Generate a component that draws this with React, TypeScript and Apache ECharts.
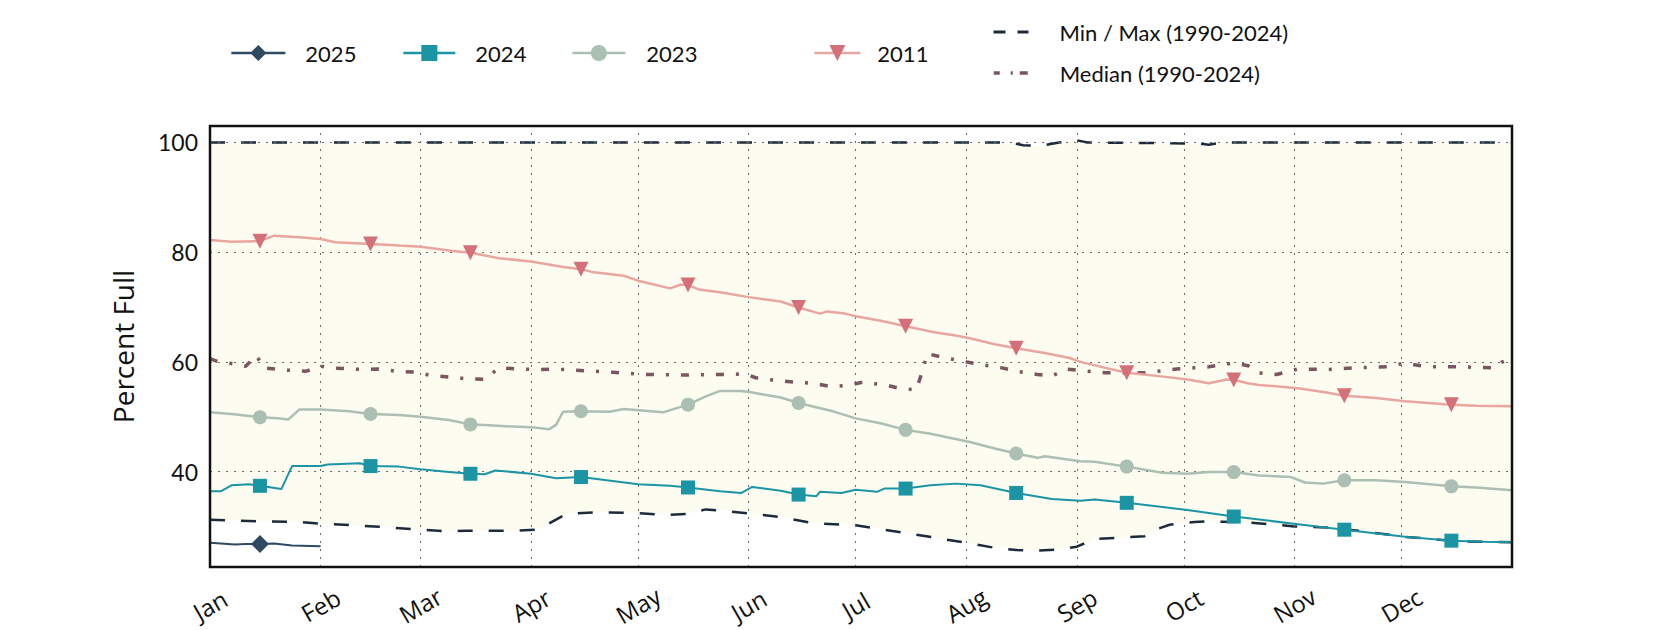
import React, { useEffect, useRef } from "react";
import * as echarts from "echarts";

const monthDays = [0, 31, 59, 90, 120, 151, 181, 212, 243, 273, 304, 334];
const monthNames = ["Jan", "Feb", "Mar", "Apr", "May", "Jun", "Jul", "Aug", "Sep", "Oct", "Nov", "Dec"];
const yTicks = [40, 60, 80, 100];
const markerDays = [14, 45, 73, 104, 134, 165, 195, 226, 257, 287, 318, 348];

const NAME_MINMAX = "Min / Max (1990-2024)";
const NAME_MEDIAN = "Median (1990-2024)";

const y2025: [number, number][] = [
  [0, 27.0], [7, 26.7], [10, 26.8], [14, 26.8], [18, 26.9], [23, 26.5], [31, 26.4],
];

const y2024: [number, number][] = [
  [0, 36.4], [3, 36.4], [6, 37.5], [11, 37.7], [14, 37.4], [20, 36.8], [23, 41.0], [31, 41.0],
  [33, 41.3], [42, 41.5], [45, 41.0], [53, 40.9], [59, 40.4], [67, 39.9], [73, 39.6], [77, 39.5],
  [80, 40.2], [90, 39.6], [97, 38.8], [104, 39.0], [109, 38.6], [120, 37.7], [129, 37.4], [134, 37.1],
  [143, 36.4], [149, 36.1], [152, 37.2], [160, 36.5], [165, 35.8], [170, 35.5], [171, 36.3], [177, 36.1],
  [181, 36.7], [187, 36.3], [189, 36.9], [195, 36.9], [202, 37.5], [209, 37.8], [216, 37.5], [226, 36.1],
  [236, 35.0], [244, 34.7], [248, 34.9], [257, 34.3], [274, 33.0], [287, 31.8], [305, 30.4], [318, 29.4],
  [335, 28.1], [348, 27.4], [357, 27.2], [365, 27.1],
];

const y2023: [number, number][] = [
  [0, 50.8], [6, 50.5], [14, 49.9], [19, 49.7], [22, 49.5], [25, 51.3], [31, 51.3], [39, 51.0],
  [45, 50.5], [53, 50.3], [59, 50.0], [67, 49.4], [73, 48.6], [77, 48.5], [85, 48.2], [90, 48.1],
  [95, 47.7], [97, 48.5], [99, 50.9], [104, 51.0], [112, 50.9], [116, 51.4], [127, 50.8], [134, 52.2],
  [139, 53.7], [143, 54.7], [149, 54.7], [152, 54.4], [160, 53.5], [165, 52.5], [174, 51.1], [181, 49.7],
  [188, 48.8], [195, 47.6], [202, 46.9], [213, 45.4], [220, 44.2], [226, 43.3], [232, 42.5], [234, 42.8],
  [244, 41.9], [248, 41.8], [257, 40.9], [267, 39.8], [274, 39.6], [280, 39.9], [287, 39.9], [294, 39.3],
  [303, 39.0], [307, 38.0], [312, 37.8], [318, 38.4], [327, 38.4], [335, 38.1], [348, 37.3], [355, 37.1],
  [365, 36.6],
];

const y2011: [number, number][] = [
  [0, 82.2], [6, 81.9], [14, 82.0], [18, 83.0], [25, 82.7], [31, 82.4], [35, 81.8], [45, 81.5],
  [53, 81.2], [59, 81.0], [68, 80.2], [73, 79.9], [81, 78.9], [90, 78.3], [99, 77.3], [104, 76.9],
  [107, 76.4], [116, 75.7], [120, 74.8], [129, 73.4], [132, 74.1], [134, 74.0], [137, 73.2], [143, 72.7],
  [151, 71.8], [160, 71.0], [165, 69.9], [171, 68.8], [173, 69.2], [178, 68.8], [181, 68.3], [188, 67.5],
  [195, 66.5], [203, 65.4], [209, 64.8], [213, 64.3], [220, 63.2], [226, 62.5], [234, 61.6], [241, 60.7],
  [244, 60.0], [251, 58.9], [257, 58.0], [266, 57.4], [274, 56.8], [280, 56.1], [285, 56.8], [287, 56.7],
  [291, 56.1], [294, 55.8], [305, 55.2], [313, 54.4], [318, 53.8], [327, 53.4], [335, 52.8], [348, 52.2],
  [355, 52.0], [365, 51.9],
];

const minCurve: [number, number][] = [
  [0, 31.2], [16, 30.9], [25, 30.8], [31, 30.5], [46, 30.0], [59, 29.4], [66, 29.1], [72, 29.2],
  [85, 29.2], [91, 29.4], [93, 29.8], [100, 32.3], [109, 32.6], [120, 32.4], [128, 32.1], [134, 32.3],
  [139, 33.1], [143, 32.9], [152, 32.3], [160, 31.7], [169, 30.6], [181, 30.2], [188, 29.5], [197, 28.6],
  [213, 26.9], [220, 26.1], [226, 25.7], [232, 25.6], [238, 25.8], [243, 26.3], [248, 27.7], [262, 28.2],
  [265, 29.4], [269, 30.3], [276, 30.8], [279, 30.9], [290, 30.8], [304, 30.0], [313, 29.8], [322, 29.2],
  [335, 28.1], [350, 27.3], [365, 27.1],
];

const maxCurve: [number, number][] = [
  [0, 100], [224, 100], [228, 99.5], [233, 99.4], [238, 100.0], [243, 100.4], [246, 100],
  [277, 99.8], [280, 99.6], [284, 100], [365, 100],
];

const medianCurve: [number, number][] = [
  [0, 60.6], [2, 60.1], [6, 59.7], [10, 59.2], [13, 61.2], [15, 58.9], [21, 58.5], [27, 58.3],
  [31, 59.2], [34, 58.9], [43, 58.6], [47, 58.7], [52, 58.3], [58, 58.1], [62, 57.5], [68, 57.2],
  [72, 56.9], [77, 56.8], [81, 58.9], [87, 58.7], [92, 58.6], [97, 58.7], [101, 58.5], [108, 58.3],
  [113, 58.1], [122, 57.7], [132, 57.6], [143, 57.7], [150, 57.8], [153, 57.1], [160, 56.5], [169, 56.1],
  [174, 55.5], [179, 55.7], [183, 56.3], [190, 55.7], [193, 55.2], [198, 54.9], [200, 58.9], [201, 61.5],
  [207, 60.6], [212, 60.0], [216, 59.5], [222, 58.9], [226, 58.3], [232, 57.7], [236, 57.4], [240, 58.7],
  [246, 58.3], [251, 58.0], [262, 58.0], [271, 58.7], [280, 59.1], [287, 59.8], [291, 59.3], [294, 58.0],
  [299, 57.7], [305, 58.7], [313, 58.6], [321, 58.9], [330, 59.1], [335, 59.8], [341, 59.1], [350, 59.1],
  [360, 58.9], [362, 59.9], [365, 60.7],
];

const FONT = "Lato";
const FONT_AXIS = "Open Sans";

function withMarkers(points: [number, number][]) {
  return points.map(([d, v]) =>
    markerDays.includes(d) ? { value: [d, v] } : { value: [d, v], symbol: "none" }
  );
}

export default function App() {
  const ref = useRef<HTMLDivElement>(null);

  useEffect(() => {
    if (!ref.current) return;
    const chart = echarts.init(ref.current, null, { renderer: "svg" });

    const gridMarks = [
      ...monthDays.slice(1).map((d) => ({ xAxis: d })),
      ...yTicks.map((v) => ({ yAxis: v })),
    ];

    const legendText = (pad: number) => ({
      fontSize: 22,
      color: "#111",
      fontFamily: FONT,
      padding: [0, 0, 0, pad],
    });

    const option: any = {
      animation: false,
      backgroundColor: "#ffffff",
      textStyle: { fontFamily: FONT },
      grid: { left: 210, top: 126, width: 1302, height: 441 },
      xAxis: {
        type: "value",
        min: 0,
        max: 365,
        axisLine: { show: false },
        axisTick: { show: false },
        splitLine: { show: false },
        axisLabel: {
          customValues: monthDays,
          formatter: (v: number) => {
            const i = monthDays.indexOf(v);
            return i >= 0 ? monthNames[i] : "";
          },
          rotate: 30,
          align: "center",
          verticalAlign: "middle",
          margin: 38,
          fontSize: 24,
          color: "#111",
          fontFamily: FONT_AXIS,
        },
      },
      yAxis: {
        type: "value",
        min: 22.6,
        max: 103,
        axisLine: { show: false },
        axisTick: { show: false },
        splitLine: { show: false },
        axisLabel: {
          customValues: yTicks,
          formatter: (v: number) => (yTicks.includes(v) ? String(v) : ""),
          margin: 12,
          fontSize: 23,
          color: "#111",
          fontFamily: FONT,
        },
        name: "Percent Full",
        nameLocation: "middle",
        nameGap: 73,
        nameTextStyle: { fontSize: 28, color: "#111", fontFamily: FONT_AXIS },
      },
      legend: [
        { data: ["2025"], left: 230, top: 42, padding: 0, itemWidth: 54, itemHeight: 20, lineStyle: { width: 2.7 }, textStyle: legendText(15) },
        { data: ["2024"], left: 402, top: 42, padding: 0, itemWidth: 52, itemHeight: 20, lineStyle: { width: 2.7 }, textStyle: legendText(15) },
        { data: ["2023"], left: 571, top: 42, padding: 0, itemWidth: 53, itemHeight: 20, lineStyle: { width: 2.7 }, textStyle: legendText(16) },
        { data: ["2011"], left: 813, top: 42, padding: 0, itemWidth: 46, itemHeight: 20, lineStyle: { width: 2.7 }, textStyle: legendText(12) },
        {
          data: [NAME_MINMAX], left: 992, top: 21, padding: 0, itemWidth: 35, itemHeight: 14,
          itemStyle: { opacity: 0 }, lineStyle: { type: [12, 12], width: 3 }, textStyle: legendText(26),
        },
        {
          data: [NAME_MEDIAN], left: 992, top: 62, padding: 0, itemWidth: 35, itemHeight: 14,
          itemStyle: { opacity: 0 }, lineStyle: { type: [6, 11, 2, 7, 8, 20], width: 3.5 }, textStyle: legendText(26),
        },
      ],
      graphic: [
        {
          type: "rect",
          silent: true,
          z: 100,
          shape: { x: 210, y: 126, width: 1302, height: 441 },
          style: { fill: "none", stroke: "#111", lineWidth: 2.5 },
        },
      ],
      series: [
        {
          name: NAME_MINMAX,
          type: "line",
          data: minCurve,
          symbol: "none",
          color: "#1c2b3b",
          lineStyle: { color: "#1c2b3b", width: 2.5, type: [15, 16] },
          areaStyle: { color: "#ffffff", opacity: 1, origin: "start" },
          z: 2,
        },
        {
          name: NAME_MINMAX,
          type: "line",
          data: maxCurve,
          symbol: "none",
          color: "#1c2b3b",
          lineStyle: { color: "#1c2b3b", width: 2.5, type: [15, 16] },
          areaStyle: { color: "#fcfcf1", opacity: 1, origin: "start" },
          z: 1,
          markLine: {
            silent: true,
            z: 5,
            symbol: ["none", "none"],
            label: { show: false },
            lineStyle: { color: "#6a6a6a", width: 1, type: [2, 6] },
            emphasis: { disabled: true },
            data: gridMarks,
          },
        },
        {
          name: NAME_MEDIAN,
          type: "line",
          data: medianCurve,
          symbol: "none",
          color: "#7b5560",
          lineStyle: { color: "#7b5560", width: 3.5, type: [8, 12, 3, 12] },
          z: 6,
        },
        {
          name: "2011",
          type: "line",
          data: withMarkers(y2011),
          symbol: "triangle",
          symbolRotate: 180,
          symbolSize: 15,
          showSymbol: true,
          color: "#d4707a",
          itemStyle: { color: "#d4707a" },
          lineStyle: { color: "#e9a6a1", width: 2.5 },
          z: 7,
        },
        {
          name: "2023",
          type: "line",
          data: withMarkers(y2023),
          symbol: "circle",
          symbolSize: 14,
          showSymbol: true,
          color: "#abbfb3",
          itemStyle: { color: "#abbfb3" },
          lineStyle: { color: "#abbfb3", width: 2.5 },
          z: 8,
        },
        {
          name: "2024",
          type: "line",
          data: withMarkers(y2024),
          symbol: "rect",
          symbolSize: 14,
          showSymbol: true,
          color: "#1b94a4",
          itemStyle: { color: "#1b94a4" },
          lineStyle: { color: "#1b94a4", width: 2 },
          z: 9,
        },
        {
          name: "2025",
          type: "line",
          data: withMarkers(y2025),
          symbol: "diamond",
          symbolSize: 18,
          showSymbol: true,
          color: "#2d4a62",
          itemStyle: { color: "#2d4a62" },
          lineStyle: { color: "#2d4a62", width: 2 },
          z: 10,
        },
      ],
    };

    chart.setOption(option);
    return () => chart.dispose();
  }, []);

  return (
    <div
      ref={ref}
      style={{ position: "fixed", left: 0, top: 0, width: 1680, height: 630, background: "#fff" }}
    />
  );
}
